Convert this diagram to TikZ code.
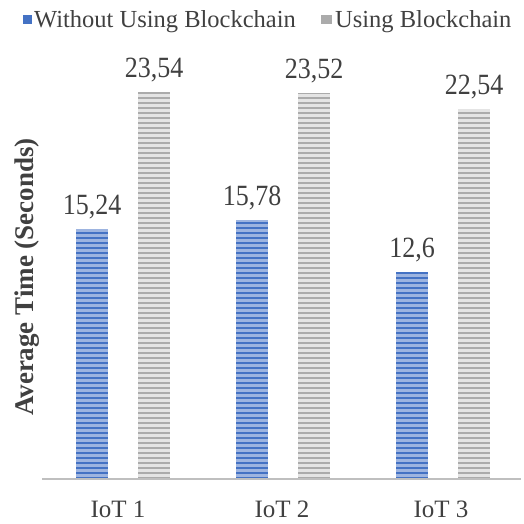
\documentclass[tikz,border=0pt]{standalone}
\usepackage{fontspec}
\setmainfont{Liberation Serif}
\definecolor{bluelight}{HTML}{9DB4E0}
\definecolor{bluedark}{HTML}{4472C4}
\definecolor{graylight}{HTML}{E4E4E4}
\definecolor{graydark}{HTML}{ABABAB}
\definecolor{txt}{HTML}{404040}
\definecolor{axisc}{HTML}{BFBFBF}
\newcommand\mybar[4]{%
  \begin{scope}
    \clip (#1-16,479) rectangle (#1+16,{479-16.4*#2});
    \fill[#3] (#1-16,479) rectangle (#1+16,{479-16.4*#2});
    \foreach \k in {0,...,80} \fill[#4] (#1-16,{479-5*\k}) rectangle (#1+16,{479-5*\k-2});
  \end{scope}}
\newcommand\tallv[1]{\scalebox{1}[1.13]{#1}}
\tikzset{
  val/.style={text=txt, font=\fontsize{26}{26}\selectfont, anchor=base, inner sep=0pt},
  cat/.style={text=txt, font=\fontsize{25}{25}\selectfont, anchor=base, inner sep=0pt},
  leg/.style={text=txt, font=\fontsize{24.5}{24.5}\selectfont, anchor=base west, inner sep=0pt},
}
\begin{document}
\begin{tikzpicture}[x={(1pt,0)}, y={(0,-1pt)}]
\useasboundingbox (0,0) rectangle (523,524);
% bars
\mybar{92}{15.24}{bluelight}{bluedark}
\mybar{154}{23.54}{graylight}{graydark}
\mybar{252}{15.78}{bluelight}{bluedark}
\mybar{314}{23.52}{graylight}{graydark}
\mybar{412}{12.6}{bluelight}{bluedark}
\mybar{474}{22.54}{graylight}{graydark}
% axis
\coordinate (axl) at (42,479);
\coordinate (axr) at (521,479);
\draw[axisc, line width=2pt] (axl) -- (axr);
% value labels
\node[val] (v11) at (92,{479-16.4*15.24-15}) {\tallv{15,24}};
\node[val] (v12) at (154,{479-16.4*23.54-15}) {\tallv{23,54}};
\node[val] (v21) at (252,{479-16.4*15.78-15}) {\tallv{15,78}};
\node[val] (v22) at (314,{479-16.4*23.52-15}) {\tallv{23,52}};
\node[val] (v31) at (412,{479-16.4*12.6-15}) {\tallv{12,6}};
\node[val] (v32) at (474,{479-16.4*22.54-15}) {\tallv{22,54}};
% categories
\node[cat] (c1) at (118,517) {IoT 1};
\node[cat] (c2) at (282,517) {IoT 2};
\node[cat] (c3) at (441,517) {IoT 3};
% y title
\node[text=txt, font=\fontsize{27}{27}\selectfont\bfseries, rotate=90, inner sep=0pt] (yt) at (27,277) {Average Time (Seconds)};
% legend
\fill[bluedark] (23,15) rectangle (32,24);
\node[leg] (l1) at (34,27.5) {Without Using Blockchain};
\fill[graydark] (321,15) rectangle (332,24);
\node[leg] (l2) at (335,27.5) {Using Blockchain};
\end{tikzpicture}
\end{document}
